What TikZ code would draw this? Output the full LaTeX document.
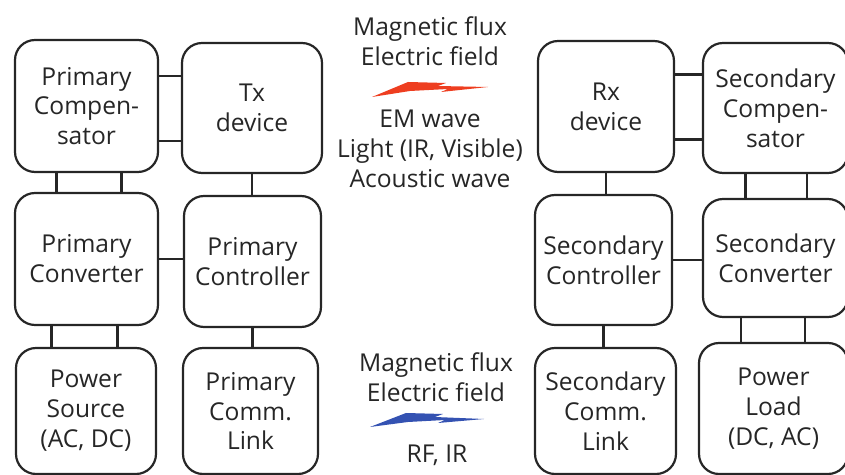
\documentclass[tikz,border=0pt]{standalone}
\usepackage{fontspec}
\setmainfont{Open Sans}
\usepackage{xcolor}
\usetikzlibrary{positioning,calc}

\definecolor{boltred}{RGB}{238,62,32}
\definecolor{boltblue}{RGB}{52,82,178}

\begin{document}
\begin{tikzpicture}[
  x=0.02cm, y=-0.02cm,
  font=\fontsize{14}{17}\selectfont,
  every node/.style={align=center, text=black!85},
  block/.style={draw=black!85, line width=1.25pt, rounded corners=0.4cm,
                minimum width=2.8cm, minimum height=2.6cm, inner sep=1pt},
  link/.style={draw=black!85, line width=1.25pt},
]

\useasboundingbox (0,0) rectangle (845,475);
\clip (0,0) rectangle (845,475);

% transmitter side
\node[block, minimum width=2.86cm, minimum height=2.64cm] (pcomp) at (86.5,106)
  {Primary\\Compen-\\sator};
\node[block] (tx) at (252,108) {Tx\\device};
\node[block, minimum width=2.86cm, minimum height=2.64cm] (pconv) at (86.5,259)
  {Primary\\Converter};
\node[block, minimum width=2.74cm, minimum height=2.62cm] (pctrl) at (252.5,261.5)
  {Primary\\Controller};
\node[block, minimum height=2.52cm] (psrc) at (86,411) {Power\\Source\\(AC, DC)};
\node[block, minimum width=2.7cm, minimum height=2.52cm] (pcomm) at (250.5,411)
  {Primary\\Comm.\\Link};

% receiver side
\node[block, minimum width=2.72cm, minimum height=2.62cm] (rx) at (606,106.5)
  {Rx\\device};
\node[block, minimum width=2.9cm] (scomp) at (775.5,108)
  {Secondary\\Compen-\\sator};
\node[block, minimum width=2.74cm] (sctrl) at (603.5,260)
  {Secondary\\Controller};
\node[block, minimum width=2.9cm, minimum height=2.36cm] (sconv) at (775.5,258)
  {Secondary\\Converter};
\node[block, minimum width=2.82cm, minimum height=2.52cm] (scomm) at (605.5,411)
  {Secondary\\Comm.\\Link};
\node[block, minimum width=2.98cm, minimum height=2.62cm] (sload) at (773.5,408.5)
  {Power\\Load\\(DC, AC)};

% connections
\draw[link] ([yshift=0.6cm]pcomp.east) -- ([yshift=0.6cm]pcomp.east -| tx.west);
\draw[link] ([yshift=-0.7cm]pcomp.east) -- ([yshift=-0.7cm]pcomp.east -| tx.west);
\draw[link] ([xshift=-0.6cm]pcomp.south) -- ([xshift=-0.6cm]pcomp.south |- pconv.north);
\draw[link] ([xshift=0.7cm]pcomp.south) -- ([xshift=0.7cm]pcomp.south |- pconv.north);
\draw[link] ([xshift=-0.7cm]pconv.south) -- ([xshift=-0.7cm]pconv.south |- psrc.north);
\draw[link] ([xshift=0.62cm]pconv.south) -- ([xshift=0.62cm]pconv.south |- psrc.north);
\draw[link] (pconv.east) -- (pconv.east -| pctrl.west);
\draw[link] (tx.south) -- (tx.south |- pctrl.north);
\draw[link] (pctrl.south) -- (pctrl.south |- pcomm.north);

\draw[link] ([yshift=0.64cm]rx.east) -- ([yshift=0.64cm]rx.east -| scomp.west);
\draw[link] ([yshift=-0.66cm]rx.east) -- ([yshift=-0.66cm]rx.east -| scomp.west);
\draw[link] ([xshift=-0.6cm]scomp.south) -- ([xshift=-0.6cm]scomp.south |- sconv.north);
\draw[link] ([xshift=0.63cm]scomp.south) -- ([xshift=0.63cm]scomp.south |- sconv.north);
\draw[link] ([xshift=-0.69cm]sconv.south) -- ([xshift=-0.69cm]sconv.south |- sload.north);
\draw[link] ([xshift=0.59cm]sconv.south) -- ([xshift=0.59cm]sconv.south |- sload.north);
\draw[link] (sctrl.east) -- (sctrl.east -| sconv.west);
\draw[link] (rx.south) -- (rx.south |- sctrl.north);
\draw[link] (sctrl.south) -- (sctrl.south |- scomm.north);

% wireless channels
\node (powertop) at (430,41) {Magnetic flux\\Electric field};
\node (powerbot) at (430,149) {EM wave\\Light (IR, Visible)\\Acoustic wave};
\fill[boltred] (372,97) -- (408,82) -- (446,83) -- (438,86) -- (488,87)
  -- (441,92) -- (448,89) -- (410,91) -- cycle;

\node (commtop) at (436,377.5) {Magnetic flux\\Electric field};
\node (commbot) at (437,455) {RF, IR};
\fill[boltblue] (370,427) -- (406,413) -- (443,414) -- (435,417) -- (484,419)
  -- (438,423) -- (445,420) -- (408,422) -- cycle;

\end{tikzpicture}
\end{document}
